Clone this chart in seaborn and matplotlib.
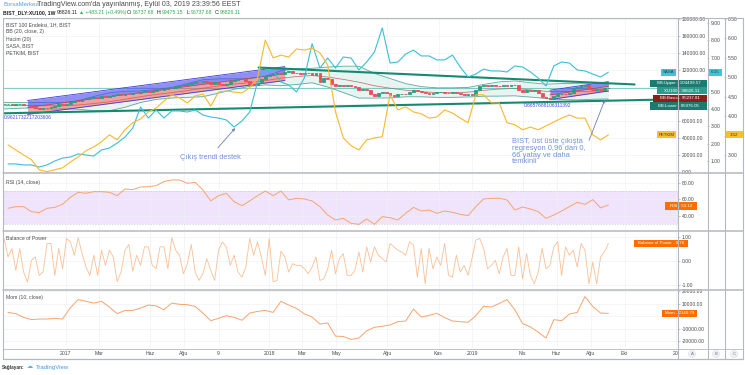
import numpy as np
import pandas as pd
import matplotlib
matplotlib.use("Agg")
import matplotlib.pyplot as plt
from matplotlib.patches import Rectangle, FancyArrowPatch
from matplotlib.lines import Line2D
import seaborn as sns

last_date = "2019-09-02"

# BIST 100 weekly closes (thousands), Sep 2016 -> Sep 2019
xu100_close = [
    79.5, 79.8, 78.9, 79.6, 80.2, 79.0, 78.4, 76.5, 75.2, 74.6,
    75.8, 74.9, 76.8, 78.2, 79.5, 78.6, 80.3, 82.5, 83.6, 84.1,
    85.9, 86.8, 87.3, 88.2, 87.5, 89.0, 88.4, 89.6, 90.5, 91.2,
    90.4, 92.0, 91.5, 93.1, 92.4, 94.2, 95.0, 94.3, 95.8, 96.5,
    95.9, 97.2, 98.4, 99.1, 100.6, 101.8, 102.5, 103.9, 105.2, 106.3,
    105.8, 107.1, 106.4, 104.1, 105.5, 103.2, 102.4, 104.0, 106.8, 108.5,
    109.6, 108.9, 107.2, 103.5, 102.8, 105.1, 109.4, 113.5, 114.6, 115.8,
    116.9, 115.2, 117.6, 119.3, 117.0, 116.2, 115.4, 116.8, 115.9, 114.7,
    116.1, 105.5, 110.2, 109.0, 103.8, 101.5, 102.9, 101.4, 102.2, 100.8,
    99.5, 96.3, 98.1, 96.0, 91.5, 89.0, 92.4, 93.8, 92.7, 90.2,
    89.8, 91.6, 92.3, 92.0, 94.5, 96.2, 95.4, 93.6, 92.8, 92.1,
    93.0, 93.6, 94.2, 93.1, 92.5, 93.9, 92.8, 91.4, 90.6, 91.8,
    90.3, 96.5, 101.5, 102.1, 101.2, 102.8, 101.6, 100.9, 102.3, 101.7,
    102.5, 101.9, 96.8, 94.2, 96.0, 95.4, 96.6, 93.2, 88.5, 87.2,
    86.4, 89.9, 91.5, 92.3, 92.0, 93.2, 98.4, 100.1, 101.5, 102.3,
    97.8, 96.5, 97.5, 95.9, 98.3, 98.82611,
]

# Bollinger (20, close, 2), every 4 weeks (thousands)
bb_upper = [82.0, 81.8, 81.5, 82.0, 81.5, 83.8, 88.9, 93.3, 94.9, 95.4,
            97.0, 99.5, 103.8, 108.6, 109.6, 109.7, 109.6, 112.5, 119.0, 121.5,
            122.0, 123.5, 124.5, 124.5, 116.0, 110.0, 104.0, 100.5, 99.0, 99.0,
            99.5, 103.0, 106.0, 107.2, 105.0, 103.3, 104.0, 104.4, 104.5, 104.49957]
bb_basis = [78.0, 78.3, 78.5, 78.0, 77.9, 78.8, 80.5, 82.7, 85.5, 88.6,
            91.2, 93.3, 95.8, 98.6, 101.2, 103.5, 105.2, 107.5, 110.3, 112.3,
            113.5, 111.7, 109.0, 105.7, 101.5, 98.6, 96.2, 94.5, 93.4, 93.4,
            93.9, 96.1, 97.6, 98.4, 96.6, 94.9, 94.6, 94.6, 95.0, 95.23781]
bb_lower = [74.0, 74.8, 75.5, 74.0, 74.3, 73.8, 72.1, 72.1, 76.1, 81.8,
            85.4, 87.1, 87.8, 88.6, 92.8, 97.3, 100.8, 102.5, 101.5, 103.0,
            105.0, 100.0, 93.5, 87.0, 87.0, 87.2, 88.5, 88.5, 87.8, 87.8,
            88.3, 89.2, 89.3, 89.6, 88.2, 86.5, 85.2, 84.8, 85.6, 85.97605]

# SASA and PETKIM, every 2 weeks
sasa = [0.83, 0.83, 0.77, 0.77, 0.65, 0.77, 1.00, 1.17, 1.23, 1.41,
        1.35, 1.29, 1.64, 1.75, 2.04, 2.39, 2.91, 4.13, 3.49, 3.96,
        3.49, 3.90, 3.90, 3.84, 3.96, 3.67, 3.55, 3.49, 3.38, 2.97,
        3.32, 3.84, 5.58, 6.28, 6.22, 5.58, 5.41, 5.00, 5.81, 7.80,
        6.39, 6.97, 6.39, 7.03, 6.97, 6.28, 6.74, 7.32, 8.71, 6.68,
        6.74, 7.20, 7.43, 7.09, 7.09, 6.86, 6.86, 7.14, 6.45, 5.87,
        6.04, 6.33, 6.22, 6.22, 6.16, 6.51, 6.45, 6.16, 5.81, 5.35,
        6.51, 6.74, 6.68, 6.28, 6.22, 6.04, 5.87, 6.15]
petkim = [3.26, 3.13, 3.00, 2.88, 2.62, 2.57, 2.62, 2.67, 2.82, 2.95,
          3.11, 3.21, 3.34, 3.52, 3.39, 3.65, 3.83, 3.93, 4.11, 4.21,
          4.39, 4.55, 4.47, 4.34, 4.52, 4.57, 4.26, 4.62, 4.65, 4.62,
          4.60, 4.73, 4.98, 5.96, 5.50, 5.57, 5.52, 5.73, 5.70, 5.75,
          5.63, 5.32, 4.11, 3.44, 3.24, 3.13, 3.39, 3.44, 3.47, 4.55,
          4.16, 4.24, 4.11, 4.06, 3.95, 3.98, 4.16, 4.08, 3.95, 3.83,
          4.55, 4.55, 4.34, 4.34, 3.83, 3.78, 3.65, 3.72, 3.65, 3.75,
          3.85, 3.95, 4.03, 3.95, 3.95, 3.52, 3.39, 3.52]

# RSI (14) and Mom (10), every 2 weeks
rsi = [49.0, 51.0, 51.0, 44.9, 43.7, 49.0, 50.1, 54.0, 62.4, 68.5,
       67.3, 69.3, 69.3, 68.5, 64.4, 72.6, 71.8, 75.0, 75.4, 76.7,
       81.6, 83.6, 83.6, 79.5, 80.7, 71.4, 58.0, 64.4, 67.3, 57.1,
       52.2, 58.0, 64.4, 70.1, 64.4, 70.1, 59.2, 61.2, 60.4, 58.0,
       51.0, 40.8, 34.7, 36.7, 30.6, 29.4, 35.9, 29.4, 38.8, 37.5,
       34.7, 42.8, 50.1, 45.7, 46.9, 42.8, 45.7, 44.1, 41.6, 40.0,
       51.0, 60.4, 61.2, 61.2, 59.2, 46.9, 50.6, 48.1, 44.9, 36.7,
       40.8, 45.7, 51.0, 56.3, 53.8, 59.6, 49.5, 53.12]
mom = [3100, 2100, -870, -2720, -2200, -2200, -1670, -2200, 6900, 13400,
       12000, 10600, 12000, 7400, 2100, 4700, 4700, 6600, 9000, 8400,
       5200, 10600, 9600, 9300, 7900, 2600, -3520, -1670, 450, -870,
       -3200, 2600, 3900, 4700, 3100, 12000, 9000, 6300, 2000, -600,
       -6200, -5370, -15950, -16200, -18600, -17500, -11700, -8810, -8020, -6960,
       -4310, -3800, 5800, -600, 700, 2400, -1100, -3800, -4310, -4840,
       450, 8100, 7400, 10300, 13400, 5200, -5900, -8550, -12780, -17500,
       -2720, -3520, 1800, 3100, 15800, 7900, 2600, 2340.79]

# Balance of Power, weekly
bop = [0.96, 0.19, 0.54, -0.37, 0.54, -0.44, -0.86, 0.05, 0.19, -0.58,
       -0.44, 0.75, 0.75, -0.58, 0.54, -0.30, 0.96, 0.82, 0.26, 0.99,
       0.33, -0.23, -0.58, 0.26, -0.58, 0.47, -0.16, 0.47, 0.19, -0.84,
       -0.44, 0.47, 0.71, -0.41, 0.26, -0.16, 0.61, 0.61, -0.16, -0.30,
       0.61, 0.61, -0.30, 0.99, 0.47, 0.26, -0.51, -0.09, 0.71, -0.44,
       -0.79, -0.51, 0.12, -0.37, -0.79, 0.47, 0.82, 0.61, -0.16, 0.26,
       -0.44, -0.65, -0.23, 0.96, 0.26, 0.82, 0.19, -0.58, 0.96, -0.84,
       -0.79, 0.43, 0.19, -0.44, -0.09, -0.16, -0.16, -0.30, -0.51, -0.23,
       0.19, -0.79, -0.72, -0.30, 0.47, -0.51, 0.12, 0.33, -0.58, -0.58,
       -0.37, 0.40, -0.44, 0.61, -0.02, 0.61, 0.26, 0.12, -0.02, 0.75,
       0.61, 0.47, 0.40, 0.26, 0.82, 0.68, -0.65, 0.54, -0.93, 0.54,
       -0.30, 0.19, -0.16, 0.75, -0.58, -0.65, 0.26, -0.44, -0.16, -0.58,
       0.12, 0.89, 0.96, 0.54, -0.30, -0.16, 0.05, -0.51, 0.19, 0.54,
       -0.58, -0.58, 0.61, -0.72, 0.33, -0.58, -0.93, -0.44, 0.54, -0.30,
       -0.16, 0.61, 0.82, -0.58, 0.61, 0.26, 0.47, -0.23, 0.75, 0.47,
       -0.93, -0.02, -0.93, 0.19, 0.40, 0.76]

# drawn trend lines
trend_upper_dates = ["2017-12-13", "2019-10-19"]
trend_upper_vals = [122900, 103000]
trend_lower_dates = ["2016-09-07", "2019-12-21"]
trend_lower_vals = [69000, 85400]
left_channel = (6, 72)
right_channel = (140, 155)

tick_dates = ["2017-01-01", "2017-03-01", "2017-06-01", "2017-08-01", "2017-10-02",
              "2018-01-01", "2018-03-01", "2018-05-01", "2018-08-01", "2018-11-01",
              "2019-01-01", "2019-04-01", "2019-06-01", "2019-08-01", "2019-10-01",
              "2020-01-01"]
tick_labels = ["2017", "Mar", "Haz", "Ağu", "9", "2018", "Mar", "May", "Ağu", "Kas",
               "2019", "Nis", "Haz", "Ağu", "Eki", "20"]

GREEN, RED = "#2f9c82", "#ec4d5c"
TEAL = "#168a6e"
CYAN, YELLOW = "#3bbfd6", "#f8b92c"
ORANGE = "#f7a46f"
TXT = "#4a4a4a"
GRID = "#eef1f6"
SEP = "#b5b8bf"

sns.set_theme(style="white")
plt.rcParams["font.family"] = ["Liberation Sans", "DejaVu Sans"]

W, H = 745, 375
fig = plt.figure(figsize=(W / 100, H / 100), dpi=100)
fig.patch.set_facecolor("white")


def box(x0, y0, x1, y1):
    return [x0 / W, 1 - y1 / H, (x1 - x0) / W, (y1 - y0) / H]


def week_dates(step, count):
    return pd.date_range(end=last_date, periods=step * count, freq="W-MON")[step - 1::step]


ax_main = fig.add_axes(box(3, 18, 678, 172.5))
ax_rsi = fig.add_axes(box(3, 174, 678, 230), sharex=ax_main)
ax_bop = fig.add_axes(box(3, 231.5, 678, 289.5), sharex=ax_main)
ax_mom = fig.add_axes(box(3, 291, 678, 348), sharex=ax_main)
panes = [ax_main, ax_rsi, ax_bop, ax_mom]

# ---- main pane
close = np.array(xu100_close) * 1000
opens = np.r_[close[0], close[:-1]]
d1 = week_dates(1, len(close))
d4 = week_dates(4, len(bb_upper))
d2 = week_dates(2, len(sasa))

up_b = np.array(bb_upper) * 1000
mid_b = np.array(bb_basis) * 1000
lo_b = np.array(bb_lower) * 1000
ax_main.fill_between(d4, lo_b, up_b, color="#dff0ed", alpha=0.7, lw=0, zorder=1)
sns.lineplot(x=d4, y=up_b, ax=ax_main, color="#5aa99d", lw=0.6, zorder=2)
sns.lineplot(x=d4, y=lo_b, ax=ax_main, color="#5aa99d", lw=0.6, zorder=2)
sns.lineplot(x=d4, y=mid_b, ax=ax_main, color="#c97a72", lw=0.6, zorder=2)


def regression(i0, i1):
    idx = np.arange(i0, i1 + 1)
    yv = close[i0:i1 + 1]
    slope, icpt = np.polyfit(idx, yv, 1)
    mid = slope * idx + icpt
    dev = np.abs(yv - mid).max()
    return d1[i0:i1 + 1], mid, mid + dev, mid - dev


for i0, i1 in (left_channel, right_channel):
    dd, mid, hi, lo = regression(i0, i1)
    ax_main.fill_between(dd, mid, hi, color="#4a4aee", alpha=0.62, lw=0, zorder=3)
    ax_main.fill_between(dd, lo, mid, color="#f24f4f", alpha=0.5, lw=0, zorder=3)
    ax_main.plot(dd, hi, color="#3b3bd9", lw=0.6, zorder=3)
    ax_main.plot(dd, lo, color="#3b3bd9", lw=0.6, zorder=3)
    ax_main.plot(dd, mid, color="#d23c3c", lw=0.5, zorder=3)

colors = np.where(close >= opens, GREEN, RED)
ax_main.bar(d1, close - opens, bottom=opens, width=5, color=colors,
            edgecolor=colors, linewidth=0.6, zorder=5)

ax_main.axhline(close[-1], color="#26a69a", lw=0.5, alpha=0.8, zorder=2)
sns.lineplot(x=pd.to_datetime(trend_upper_dates), y=trend_upper_vals, ax=ax_main,
             color=TEAL, lw=1.5, zorder=6)
sns.lineplot(x=pd.to_datetime(trend_lower_dates), y=trend_lower_vals, ax=ax_main,
             color=TEAL, lw=1.5, zorder=6)

price_ticks = list(range(0, 180001, 20000))
ax_main.set_ylim(-600, 181200)
ax_main.set_yticks(price_ticks)
ax_main.set_yticklabels(["" if v in (80000, 100000) else f"{v:.2f}" for v in price_ticks])

ax_sasa = ax_main.twinx()
sns.lineplot(x=d2, y=sasa, ax=ax_sasa, color=CYAN, lw=0.8)
ax_sasa.set_ylim(0.333, 9.29)
ax_sasa.set_yticks(range(1, 10))
ax_sasa.set_yticklabels(["" if v == 6 else f"{v:.2f}" for v in range(1, 10)])
ax_sasa.spines["right"].set_position(("axes", (707 - 3) / 675))

ax_pet = ax_main.twinx()
sns.lineplot(x=d2, y=petkim, ax=ax_pet, color=YELLOW, lw=0.8)
ax_pet.set_ylim(2.55, 6.526)
pet_ticks = np.arange(3.0, 6.51, 0.5)
ax_pet.set_yticks(pet_ticks)
ax_pet.set_yticklabels(["" if abs(v - 3.5) < 0.01 else f"{v:.2f}" for v in pet_ticks])
ax_pet.spines["right"].set_position(("axes", (724 - 3) / 675))

# ---- RSI
ax_rsi.axhspan(30, 70, color="#efe4fb", lw=0, zorder=0)
for lvl in (30, 70):
    ax_rsi.axhline(lvl, color="#c9c9d0", lw=0.5, ls=(0, (2, 2)), zorder=1)
sns.lineplot(x=d2, y=rsi, ax=ax_rsi, color=ORANGE, lw=0.7, zorder=3)
ax_rsi.set_ylim(22.45, 90.9)
ax_rsi.set_yticks([40, 60, 80])
ax_rsi.set_yticklabels(["40.00", "60.00", "80.00"])

# ---- Balance of Power
sns.lineplot(x=week_dates(1, len(bop)), y=bop, ax=ax_bop, color="#fbbf94", lw=0.6, zorder=3)
ax_bop.set_ylim(-1.167, 1.25)
ax_bop.set_yticks([-1, 0, 1])
ax_bop.set_yticklabels(["-1.00", "0.00", "1.00"])

# ---- Momentum
sns.lineplot(x=d2, y=mom, ax=ax_mom, color=ORANGE, lw=0.7, zorder=3)
ax_mom.set_ylim(-25480, 20300)
mom_ticks = [-20000, -10000, 0, 10000, 20000]
ax_mom.set_yticks(mom_ticks)
ax_mom.set_yticklabels(["" if v == 0 else f"{v:.2f}" for v in mom_ticks])

# ---- shared styling
ax_main.set_xlim(pd.Timestamp("2016-09-10"), pd.Timestamp("2020-01-05"))
ax_mom.set_xticks(pd.to_datetime(tick_dates))
ax_mom.set_xticklabels(tick_labels)
for ax in panes + [ax_sasa, ax_pet]:
    ax.set_xlabel("")
    ax.set_ylabel("")
    for s in ax.spines.values():
        s.set_visible(False)
    ax.tick_params(axis="y", which="both", left=False, labelleft=False, right=True,
                   labelright=True, labelsize=3.6, labelcolor=TXT, colors="#9a9da5",
                   length=1.5, width=0.4, pad=1)
for ax in panes:
    ax.set_facecolor("white")
    ax.grid(True, color=GRID, lw=0.5)
    ax.tick_params(axis="x", length=0, labelsize=3.7, labelcolor=TXT, pad=2.5,
                   labelbottom=(ax is ax_mom))
    ax.set_axisbelow(True)
for ax in (ax_sasa, ax_pet):
    ax.tick_params(axis="y", labelcolor=TXT)
    ax.grid(False)


def px(x, y):
    return x / W, 1 - y / H


def ypix(ax, v):
    return H - ax.transData.transform((0, v))[1]


def tag(x0, x1, yc, text, fc, tc="white", h=7.2):
    fig.patches.append(Rectangle((x0 / W, 1 - (yc + h / 2) / H), (x1 - x0) / W, h / H,
                                 transform=fig.transFigure, fc=fc, ec="none", zorder=20))
    fig.text((x0 + x1) / 2 / W, 1 - yc / H, text, color=tc, fontsize=3.2,
             ha="center", va="center", zorder=21)


# value tags
y_sasa = ypix(ax_sasa, sasa[-1])
tag(661, 676, y_sasa, "SASA", "#3cc5dc", "#1d3d44")
tag(708, 722, y_sasa, f"{sasa[-1]:.2f}", "#3cc5dc", "#1d3d44")
y_pet = ypix(ax_pet, petkim[-1])
tag(657, 676, y_pet, "PETKIM", "#f9bf2e", "#4a3a10")
tag(725, 743, y_pet, f"{petkim[-1]:.2f}", "#f9bf2e", "#4a3a10")
y_up = ypix(ax_main, up_b[-1])
tag(650, 707, y_up, f"BB:Upper - {up_b[-1]:.2f}", "#1b7b70")
tag(657, 707, y_up + 7.6, f"XU100 - {close[-1]:.2f}", "#2e9a8b")
tag(653, 707, y_up + 15.2, f"BB:Basis - {mid_b[-1]:.2f}", "#8e1d1d")
tag(650, 707, y_up + 22.8, f"BB:Lower - {lo_b[-1]:.2f}", "#1b7b70")
tag(665, 697, ypix(ax_rsi, rsi[-1]) + 1, f"RSI - {rsi[-1]:.2f}", "#ff6d00")
tag(634, 688, ypix(ax_bop, bop[-1]), f"Balance of Power - {bop[-1]:.2f}", "#ff6d00")
tag(662, 697, ypix(ax_mom, mom[-1]), f"Mom - {mom[-1]:.2f}", "#ff6d00")

# legends / titles
for k, s in enumerate(["BIST 100 Endeksi, 1H, BIST", "BB (20, close, 2)", "Hacim (20)",
                       "SASA, BIST", "PETKIM, BIST"]):
    fig.text(*px(6, 25 + 7 * k), s, fontsize=3.7, color=TXT, va="center")
fig.text(*px(6, 182), "RSI (14, close)", fontsize=3.7, color=TXT, va="center")
fig.text(*px(6, 239), "Balance of Power", fontsize=3.7, color=TXT, va="center")
fig.text(*px(6, 298), "Mom (10, close)", fontsize=3.7, color=TXT, va="center")

# header
fig.text(*px(3, 5), "BorsaMerkezi", fontsize=4.3, color="#4da3ea", va="center")
fig.text(*px(37, 5), "TradingView.com'da yayınlanmış, Eylül 03, 2019 23:39:56 EEST",
         fontsize=5.15, color=TXT, va="center")
HG = "#2fae4e"
for x, s, c, w in [(3, "BIST_DLY:XU100, 1W", "#222222", "bold"), (57, "98826.11", "#222222", "normal"),
                   (79, "▲ +483.21 (+0.49%)", HG, "normal"), (127, "O:", "#222222", "normal"),
                   (132.5, "96737.68", HG, "normal"), (157, "H:", "#222222", "normal"),
                   (162, "99475.15", HG, "normal"), (187, "L:", "#222222", "normal"),
                   (191, "96737.68", HG, "normal"), (215, "C:", "#222222", "normal"),
                   (219.5, "98826.11", HG, "normal")]:
    fig.text(*px(x, 12.5), s, fontsize=3.7, color=c, fontweight=w, va="center")

# annotations
ANN = "#7193de"
fig.text(*px(512, 138.5), "BIST, üst üste çıkışta\nregresyon 0,96 dan 0,\n66 yatay ve daha\ntemkinli",
         fontsize=5.4, color=ANN, va="top", linespacing=0.92)
fig.text(*px(180, 157), "Çıkış trendi destek", fontsize=5.3, color=ANN, va="center")
for (xa, ya), (xb, yb) in [((216, 150), (237, 126)), ((588, 143), (606, 97))]:
    fig.add_artist(FancyArrowPatch(
        px(xa, ya), px(xb, yb), transform=fig.transFigure, arrowstyle="-|>",
        mutation_scale=4, color="#6f7fb8", lw=0.6, zorder=15))
fig.text(*px(4, 117.5), "0.9621732217203606", fontsize=3.5, color="#3d4fe0", va="center")
fig.text(*px(524, 105.5), "0.6657688106311392", fontsize=3.5, color="#3d4fe0", va="center")

# frame and separators
for y in (173.2, 230.7, 290.2):
    fig.add_artist(Line2D([3 / W, 743 / W], [1 - y / H] * 2, color=SEP, lw=1.1, zorder=30))
for y, lw in ((18, 0.8), (348.5, 0.6), (359, 0.9)):
    fig.add_artist(Line2D([3 / W, 743 / W], [1 - y / H] * 2, color=SEP, lw=lw, zorder=30))
for x in (3, 678, 707.5, 724.5, 743):
    fig.add_artist(Line2D([x / W] * 2, [1 - 18 / H, 1 - 359 / H], color=SEP, lw=0.8, zorder=30))

for x, s in ((692, "A"), (716, "B"), (734, "C")):
    fig.text(*px(x, 354), s, fontsize=3.2, color="#777", ha="center", va="center",
             bbox=dict(boxstyle="circle,pad=0.35", fc="#eef0f4", ec="#dde0e6", lw=0.4))

fig.text(*px(2, 367), "Sağlayan:", fontsize=3.4, color="#333", fontweight="bold", va="center")
fig.text(*px(27, 367), "☁", fontsize=4.4, color="#59b0e6", va="center")
fig.text(*px(36, 367), "TradingView", fontsize=4.3, color="#3c9be6", va="center")

fig.savefig("out.png", dpi=100)
